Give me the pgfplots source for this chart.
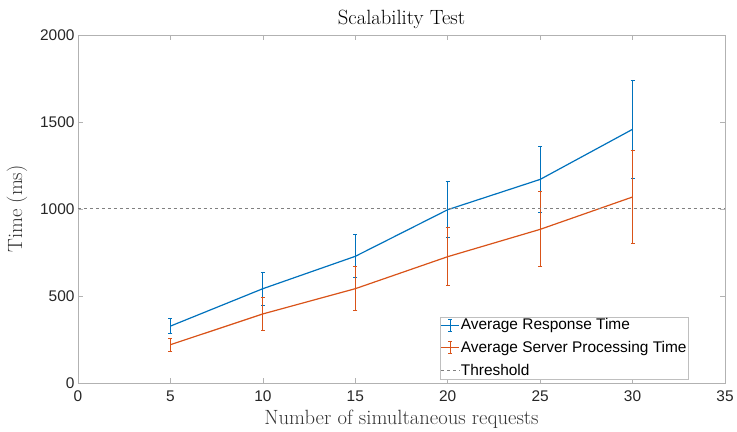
\documentclass[border=0pt]{standalone}
\usepackage{pgfplots}
\pgfplotsset{compat=1.18}
\usepackage{fontspec}
\newfontfamily\hv{Liberation Sans}
\definecolor{mblue}{rgb}{0,0.447,0.741}
\definecolor{morange}{rgb}{0.85,0.325,0.098}
\pgfplotsset{
  ebarlegend/.style={legend image code/.code={
    \draw[##1, line width=1bp] (0bp,0bp) -- (18bp,0bp);
    \draw[##1, line width=1bp] (9bp,-6bp) -- (9bp,6bp);
    \draw[##1, line width=1bp] (7bp,-6bp) -- (11bp,-6bp);
    \draw[##1, line width=1bp] (7bp,6bp) -- (11bp,6bp);
  }},
  dashlegend/.style={legend image code/.code={
    \draw[##1] (0bp,0bp) -- (18bp,0bp);
  }},
}
\begin{document}
\begin{tikzpicture}
\useasboundingbox (-78bp,-49bp) rectangle (659bp,383bp);
\begin{axis}[at={(0,0)}, anchor=south west, scale only axis,
  width=647bp, height=348bp,
  xmin=0, xmax=35, ymin=0, ymax=2000,
  xtick={0,5,...,35}, ytick={0,500,...,2000},
  scaled ticks=false,
  /pgf/number format/1000 sep={},
  /pgf/number format/assume math mode=true,
  tick align=inside, major tick length=5bp,
  axis line style={gray!60, line width=0.6bp},
  tick style={gray!60, line width=0.6bp},
  tick label style={font=\hv\fontsize{15.5}{15.5}\selectfont, black!85},
  xticklabel style={yshift=-4bp},
  title={Scalability Test},
  title style={font=\fontsize{20.7}{20.7}\selectfont, yshift=-3bp},
  xlabel={Number of simultaneous requests},
  ylabel={Time (ms)},
  xlabel style={yshift=-2bp},
  ylabel style={yshift=6bp},
  label style={font=\fontsize{20.7}{20.7}\selectfont, black!80},
  legend style={at={(0.944,0.0115)}, anchor=south east,
    font=\hv\fontsize{15.5}{18}\selectfont, draw=gray!50, inner sep=1bp,
    row sep=8bp, nodes={inner sep=1bp}},
  legend cell align=left,
]
\addplot+[mblue, line width=1.2bp, mark=none, ebarlegend,
  error bars/.cd, y dir=both, y explicit, error mark=-,
  error bar style={mblue, line width=1bp},
  error mark options={mblue, rotate=90, mark size=2bp, line width=1bp}]
  table[x=x, y=y, y error=e] {
x y e
5 327 42
10 542 95
15 728 123
20 996 160
25 1170 190
30 1458 283
};
\addlegendentry{Average Response Time}
\addplot+[morange, line width=1.2bp, mark=none, ebarlegend,
  error bars/.cd, y dir=both, y explicit, error mark=-,
  error bar style={morange, line width=1bp},
  error mark options={morange, rotate=90, mark size=2bp, line width=1bp}]
  table[x=x, y=y, y error=e] {
x y e
5 220 38
10 397 96
15 542 127
20 726 165
25 883 216
30 1069 270
};
\addlegendentry{Average Server Processing Time}
\addplot[gray, dashed, line width=1bp, dashlegend] coordinates {(0,1000) (35,1000)};
\addlegendentry{Threshold}
\end{axis}
\end{tikzpicture}
\end{document}
